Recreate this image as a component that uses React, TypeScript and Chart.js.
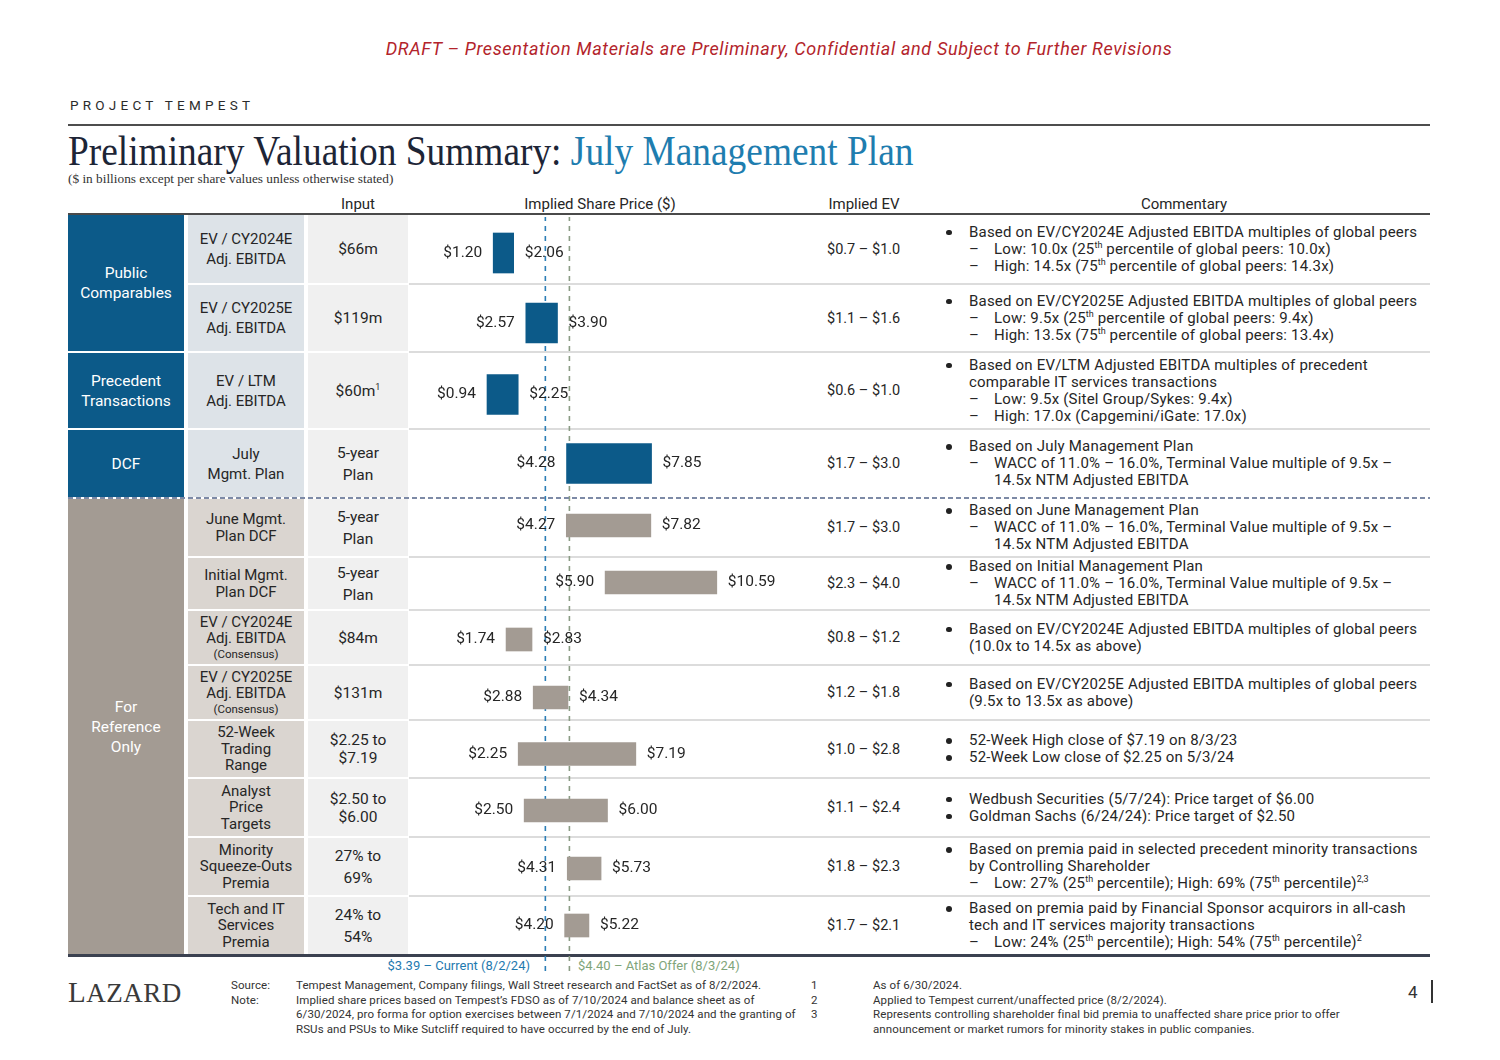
import React, { useEffect, useRef } from "react";
import { Chart, registerables } from "chart.js";

Chart.register(...registerables);

// ---------------- data ----------------
const methods: string[] = [
  "EV / CY2024E\nAdj. EBITDA",
  "EV / CY2025E\nAdj. EBITDA",
  "EV / LTM\nAdj. EBITDA",
  "July\nMgmt. Plan",
  "June Mgmt.\nPlan DCF",
  "Initial Mgmt.\nPlan DCF",
  "EV / CY2024E\nAdj. EBITDA\n(Consensus)",
  "EV / CY2025E\nAdj. EBITDA\n(Consensus)",
  "52-Week\nTrading\nRange",
  "Analyst\nPrice\nTargets",
  "Minority\nSqueeze-Outs\nPremia",
  "Tech and IT\nServices\nPremia",
];
const inputs: string[] = [
  "$66m",
  "$119m",
  "$60m{1}",
  "5-year\nPlan",
  "5-year\nPlan",
  "5-year\nPlan",
  "$84m",
  "$131m",
  "$2.25 to\n$7.19",
  "$2.50 to\n$6.00",
  "27% to\n69%",
  "24% to\n54%",
];
const lows: number[] = [1.2, 2.57, 0.94, 4.28, 4.27, 5.9, 1.74, 2.88, 2.25, 2.5, 4.31, 4.2];
const highs: number[] = [2.06, 3.9, 2.25, 7.85, 7.82, 10.59, 2.83, 4.34, 7.19, 6.0, 5.73, 5.22];
const evRanges: string[] = [
  "$0.7 – $1.0",
  "$1.1 – $1.6",
  "$0.6 – $1.0",
  "$1.7 – $3.0",
  "$1.7 – $3.0",
  "$2.3 – $4.0",
  "$0.8 – $1.2",
  "$1.2 – $1.8",
  "$1.0 – $2.8",
  "$1.1 – $2.4",
  "$1.8 – $2.3",
  "$1.7 – $2.1",
];
const groupLabels: string[] = ["Public\nComparables", "Precedent\nTransactions", "DCF", "For\nReference\nOnly"];
const groupRowCounts: number[] = [2, 1, 1, 8];
const groupIsReference: boolean[] = [false, false, false, true];

const CURRENT_PRICE = 3.39;
const OFFER_PRICE = 4.4;
const currentLabel = "$3.39 – Current (8/2/24)";
const offerLabel = "$4.40 – Atlas Offer (8/3/24)";

type Line = [string, string];
const commentary: Line[][] = [
  [
    ["b", "Based on EV/CY2024E Adjusted EBITDA multiples of global peers"],
    ["d", "Low: 10.0x (25{th} percentile of global peers: 10.0x)"],
    ["d", "High: 14.5x (75{th} percentile of global peers: 14.3x)"],
  ],
  [
    ["b", "Based on EV/CY2025E Adjusted EBITDA multiples of global peers"],
    ["d", "Low: 9.5x (25{th} percentile of global peers: 9.4x)"],
    ["d", "High: 13.5x (75{th} percentile of global peers: 13.4x)"],
  ],
  [
    ["b", "Based on EV/LTM Adjusted EBITDA multiples of precedent"],
    ["bc", "comparable IT services transactions"],
    ["d", "Low: 9.5x (Sitel Group/Sykes: 9.4x)"],
    ["d", "High: 17.0x (Capgemini/iGate: 17.0x)"],
  ],
  [
    ["b", "Based on July Management Plan"],
    ["d", "WACC of 11.0% – 16.0%, Terminal Value multiple of 9.5x –"],
    ["dc", "14.5x NTM Adjusted EBITDA"],
  ],
  [
    ["b", "Based on June Management Plan"],
    ["d", "WACC of 11.0% – 16.0%, Terminal Value multiple of 9.5x –"],
    ["dc", "14.5x NTM Adjusted EBITDA"],
  ],
  [
    ["b", "Based on Initial Management Plan"],
    ["d", "WACC of 11.0% – 16.0%, Terminal Value multiple of 9.5x –"],
    ["dc", "14.5x NTM Adjusted EBITDA"],
  ],
  [
    ["b", "Based on EV/CY2024E Adjusted EBITDA multiples of global peers"],
    ["bc", "(10.0x to 14.5x as above)"],
  ],
  [
    ["b", "Based on EV/CY2025E Adjusted EBITDA multiples of global peers"],
    ["bc", "(9.5x to 13.5x as above)"],
  ],
  [
    ["b", "52-Week High close of $7.19 on 8/3/23"],
    ["b", "52-Week Low close of $2.25 on 5/3/24"],
  ],
  [
    ["b", "Wedbush Securities (5/7/24): Price target of $6.00"],
    ["b", "Goldman Sachs (6/24/24): Price target of $2.50"],
  ],
  [
    ["b", "Based on premia paid in selected precedent minority transactions"],
    ["bc", "by Controlling Shareholder"],
    ["d", "Low: 27% (25{th} percentile); High: 69% (75{th} percentile){2,3}"],
  ],
  [
    ["b", "Based on premia paid by Financial Sponsor acquirors in all-cash"],
    ["bc", "tech and IT services majority transactions"],
    ["d", "Low: 24% (25{th} percentile); High: 54% (75{th} percentile){2}"],
  ],
];

const sourceNotes: string[] = [
  "Tempest Management, Company filings, Wall Street research and FactSet as of 8/2/2024.",
  "Implied share prices based on Tempest’s FDSO as of 7/10/2024 and balance sheet as of",
  "6/30/2024, pro forma for option exercises between 7/1/2024 and 7/10/2024 and the granting of",
  "RSUs and PSUs to Mike Sutcliff required to have occurred by the end of July.",
];
const footnoteNumbers: string[] = ["1", "2", "3"];
const footnotes: string[] = [
  "As of 6/30/2024.",
  "Applied to Tempest current/unaffected price (8/2/2024).",
  "Represents controlling shareholder final bid premia to unaffected share price prior to offer",
  "announcement or market rumors for minority stakes in public companies.",
];

// ---------------- layout / style ----------------
const FONT = "Roboto, 'Noto Sans', sans-serif";
const SERIF = "'Liberation Serif', 'DejaVu Serif', serif";
const BLUE = "#0C5A89";
const GREY = "#A39B93";
const TITLE_BLUE = "#1E7DAF";
const CUR_BLUE = "#2C7DB5";
const OFFER_GREEN = "#8A9C84";
const TEXT = "#262626";

const ROW_EDGES = [214, 284, 352, 429, 498, 557, 610, 665, 720, 778, 837, 896, 955];
const BAR_SHIFT = [4, 5, 4, 0, -2, -1, 2, 5, 5, 3, 2, 0];
const INPUT_LH = [20, 20, 20, 22, 22, 22, 20, 20, 18, 18, 22, 22];
const X_MIN = -2;
const X_MAX = 14;
const CHART_LEFT = 417;
const CHART_WIDTH = 381;
const LEFT = 68;
const RIGHT = 1430;

function Rich({ text, supSize = 9 }: { text: string; supSize?: number }) {
  const parts = text.split(/\{([^}]*)\}/);
  return (
    <>
      {parts.map((p, i) =>
        i % 2 ? (
          <sup key={i} style={{ fontSize: supSize, lineHeight: 0, verticalAlign: "super", letterSpacing: 0 }}>
            {p}
          </sup>
        ) : (
          <React.Fragment key={i}>{p}</React.Fragment>
        )
      )}
    </>
  );
}

function MultiLine({ text, lh, small }: { text: string; lh: number; small?: boolean }) {
  return (
    <div style={{ textAlign: "center" }}>
      {text.split("\n").map((l, i) => {
        const isSmall = small && l.startsWith("(");
        return (
          <div key={i} style={{ lineHeight: `${isSmall ? 15 : lh}px`, fontSize: isSmall ? 11.5 : undefined, whiteSpace: "nowrap" }}>
            <Rich text={l} />
          </div>
        );
      })}
    </div>
  );
}

const rangeLabelPlugin = {
  id: "rangeLabels",
  afterDatasetsDraw(chart: any) {
    const ctx = chart.ctx;
    const meta = chart.getDatasetMeta(0);
    const ds = chart.data.datasets[0];
    meta.data.forEach((bar: any, i: number) => {
      const p = bar.getProps(["x", "y", "base"], true);
      const [lo, hi] = ds.data[i] as number[];
      const left = Math.min(p.x, p.base);
      const right = Math.max(p.x, p.base);
      ctx.save();
      ctx.font = `15.5px ${FONT}`;
      ctx.fillStyle = TEXT;
      ctx.textBaseline = "middle";
      ctx.textAlign = "right";
      ctx.fillText(`$${lo.toFixed(2)}`, left - 11, p.y);
      ctx.textAlign = "left";
      ctx.fillText(`$${hi.toFixed(2)}`, right + 11, p.y);
      ctx.restore();
    });
  },
};

function RowBar({ index }: { index: number }) {
  const ref = useRef<HTMLCanvasElement>(null);
  const top = ROW_EDGES[index];
  const height = ROW_EDGES[index + 1] - top;
  const refRow = index >= groupRowCounts[0] + groupRowCounts[1] + groupRowCounts[2];
  useEffect(() => {
    const shift = BAR_SHIFT[index];
    const chart = new Chart(ref.current!, {
      type: "bar",
      data: {
        labels: [methods[index]],
        datasets: [
          {
            data: [[lows[index], highs[index]]] as any,
            backgroundColor: refRow ? GREY : BLUE,
            borderWidth: 0,
            barThickness: refRow ? 23 : 40,
          },
        ],
      },
      options: {
        indexAxis: "y",
        animation: false,
        responsive: true,
        maintainAspectRatio: false,
        layout: { padding: { top: shift > 0 ? shift * 2 : 0, bottom: shift < 0 ? -shift * 2 : 0, left: 0, right: 0 } },
        plugins: { legend: { display: false }, tooltip: { enabled: false } },
        scales: {
          x: { type: "linear", min: X_MIN, max: X_MAX, display: false },
          y: { display: false },
        },
      },
      plugins: [rangeLabelPlugin],
    });
    return () => chart.destroy();
  }, [index]);
  return (
    <div style={{ position: "absolute", left: CHART_LEFT, top, width: CHART_WIDTH, height, zIndex: 3 }}>
      <canvas ref={ref} />
    </div>
  );
}

function RefLines() {
  const ref = useRef<HTMLCanvasElement>(null);
  useEffect(() => {
    const chart = new Chart(ref.current!, {
      type: "scatter",
      data: {
        datasets: [
          {
            data: [
              { x: CURRENT_PRICE, y: 0 },
              { x: CURRENT_PRICE, y: 1 },
            ],
            showLine: true,
            borderColor: CUR_BLUE,
            borderWidth: 1.6,
            borderDash: [5, 5],
            pointRadius: 0,
          },
          {
            data: [
              { x: OFFER_PRICE, y: 0 },
              { x: OFFER_PRICE, y: 1 },
            ],
            showLine: true,
            borderColor: OFFER_GREEN,
            borderWidth: 1.6,
            borderDash: [5, 5],
            pointRadius: 0,
          },
        ],
      },
      options: {
        animation: false,
        responsive: true,
        maintainAspectRatio: false,
        layout: { padding: 0 },
        plugins: { legend: { display: false }, tooltip: { enabled: false } },
        scales: {
          x: { type: "linear", min: X_MIN, max: X_MAX, display: false },
          y: { type: "linear", min: 0, max: 1, display: false },
        },
      },
    });
    return () => chart.destroy();
  }, []);
  return (
    <div style={{ position: "absolute", left: CHART_LEFT, top: 217, width: CHART_WIDTH, height: 754, zIndex: 2 }}>
      <canvas ref={ref} />
    </div>
  );
}

function abs(left: number, top: number, extra: React.CSSProperties = {}): React.CSSProperties {
  return { position: "absolute", left, top, ...extra };
}

export default function App() {
  const groupBlocks: JSX.Element[] = [];
  let r = 0;
  groupLabels.forEach((g, gi) => {
    const top = ROW_EDGES[r] + 1;
    const bottom = ROW_EDGES[r + groupRowCounts[gi]] - 1;
    groupBlocks.push(
      <div
        key={"g" + gi}
        style={abs(LEFT, top, {
          width: 116,
          height: bottom - top,
          background: groupIsReference[gi] ? GREY : BLUE,
          color: "#fff",
          display: "flex",
          alignItems: "center",
          justifyContent: "center",
          fontSize: 15.5,
        })}
      >
        <MultiLine text={g} lh={20} />
      </div>
    );
    r += groupRowCounts[gi];
  });

  const isRefRow = (i: number) => i >= groupRowCounts[0] + groupRowCounts[1] + groupRowCounts[2];
  const noteStyle: React.CSSProperties = {
    fontSize: 11.5,
    lineHeight: "14.5px",
    color: "#333",
    whiteSpace: "nowrap",
    letterSpacing: 0.1,
  };

  return (
    <div
      style={{
        position: "absolute",
        left: 0,
        top: 0,
        width: 1500,
        height: 1060,
        background: "#fff",
        fontFamily: FONT,
        color: TEXT,
        overflow: "hidden",
      }}
    >
      {/* draft banner */}
      <div
        style={abs(179, 37, {
          width: 1200,
          textAlign: "center",
          fontStyle: "italic",
          fontSize: 18,
          letterSpacing: 0.65,
          lineHeight: "24px",
          color: "#B3242B",
          whiteSpace: "nowrap",
        })}
      >
        DRAFT – Presentation Materials are Preliminary, Confidential and Subject to Further Revisions
      </div>
      <div style={abs(70, 97, { fontSize: 13.5, letterSpacing: 4.25, lineHeight: "16px", color: "#2B2B2B" })}>
        PROJECT TEMPEST
      </div>
      <div style={abs(LEFT, 124, { width: RIGHT - LEFT, height: 1.5, background: "#4D4D4D" })} />
      <div
        style={abs(LEFT, 127, {
          fontFamily: SERIF,
          fontSize: 42,
          lineHeight: "48px",
          whiteSpace: "nowrap",
          color: "#1D2536",
          transform: "scaleX(0.89)",
          transformOrigin: "0 0",
        })}
      >
        Preliminary Valuation Summary: <span style={{ color: TITLE_BLUE }}>July Management Plan</span>
      </div>
      <div style={abs(LEFT, 171, { fontFamily: SERIF, fontSize: 13.3, lineHeight: "16px", color: "#333" })}>
        ($ in billions except per share values unless otherwise stated)
      </div>

      {/* headers */}
      {[
        ["Input", 358],
        ["Implied Share Price ($)", 600],
        ["Implied EV", 864],
        ["Commentary", 1184],
      ].map(([t, c]) => (
        <div
          key={t as string}
          style={abs((c as number) - 150, 195, { width: 300, textAlign: "center", fontSize: 15, lineHeight: "18px" })}
        >
          {t}
        </div>
      ))}
      <div style={abs(LEFT, 212.5, { width: RIGHT - LEFT, height: 2, background: "#4A4A4A" })} />

      {groupBlocks}

      {methods.map((m, i) => {
        const top = ROW_EDGES[i] + 1;
        const h = ROW_EDGES[i + 1] - ROW_EDGES[i] - 2;
        const refRow = isRefRow(i);
        return (
          <React.Fragment key={"row" + i}>
            <div
              style={abs(188, top, {
                width: 116,
                height: h,
                background: refRow ? "#DAD5D0" : "#DDE3E8",
                display: "flex",
                alignItems: "center",
                justifyContent: "center",
                fontSize: 15,
              })}
            >
              <MultiLine text={m} lh={refRow ? 16.5 : 20} small />
            </div>
            <div
              style={abs(308, top, {
                width: 100,
                height: h,
                background: "#F0F0F0",
                display: "flex",
                alignItems: "center",
                justifyContent: "center",
                fontSize: 15.5,
              })}
            >
              <MultiLine text={inputs[i]} lh={INPUT_LH[i]} />
            </div>
            <div
              style={abs(827, ROW_EDGES[i], {
                height: ROW_EDGES[i + 1] - ROW_EDGES[i],
                display: "flex",
                alignItems: "center",
                fontSize: 14.5,
                whiteSpace: "nowrap",
              })}
            >
              {evRanges[i]}
            </div>
            <div
              style={abs(940, ROW_EDGES[i], {
                width: 510,
                height: ROW_EDGES[i + 1] - ROW_EDGES[i],
                display: "flex",
                flexDirection: "column",
                justifyContent: "center",
                fontSize: 15,
                letterSpacing: 0.2,
                whiteSpace: "nowrap",
              })}
            >
              {commentary[i].map(([k, t], j) => (
                <div
                  key={j}
                  style={{
                    position: "relative",
                    lineHeight: "17px",
                    height: 17,
                    paddingLeft: k === "b" || k === "bc" ? 29 : 54,
                  }}
                >
                  {k === "b" && (
                    <span
                      style={{
                        position: "absolute",
                        left: 6,
                        top: 6,
                        width: 5.5,
                        height: 5.5,
                        borderRadius: 3,
                        background: "#222",
                      }}
                    />
                  )}
                  {k === "d" && <span style={{ position: "absolute", left: 29 }}>–</span>}
                  <Rich text={t} />
                </div>
              ))}
            </div>
            {i > 0 && i !== 4 && (
              <div style={abs(409, ROW_EDGES[i] - 0.75, { width: RIGHT - 409, height: 1.5, background: "#DCDCDC" })} />
            )}
            <RowBar index={i} />
          </React.Fragment>
        );
      })}

      {/* dashed separator between DCF and reference rows */}
      <div
        style={abs(LEFT, ROW_EDGES[4] - 1, {
          width: RIGHT - LEFT,
          height: 1.5,
          background: "repeating-linear-gradient(to right, #7D8AA6 0 5px, transparent 5px 8px)",
          zIndex: 4,
        })}
      />
      {/* bottom rule */}
      <div style={abs(LEFT, 954, { width: RIGHT - LEFT, height: 2.5, background: "#3B4150", zIndex: 1 })} />

      <RefLines />

      {/* reference line labels */}
      <div style={abs(230, 958, { width: 300, textAlign: "right", fontSize: 13, lineHeight: "16px", color: "#1F7AB0" })}>
        {currentLabel}
      </div>
      <div style={abs(578, 958, { fontSize: 13, lineHeight: "16px", color: "#7FA57A", whiteSpace: "nowrap" })}>
        {offerLabel}
      </div>

      {/* footer */}
      <div style={abs(LEFT, 976, { fontFamily: SERIF, fontSize: 29, lineHeight: "32px", color: "#3A3A3A", letterSpacing: 0.5 })}>
        L<span style={{ fontSize: 27 }}>AZARD</span>
      </div>
      <div style={abs(231, 978, noteStyle)}>
        <div>Source:</div>
        <div>Note:</div>
      </div>
      <div style={abs(296, 978, noteStyle)}>
        {sourceNotes.map((s, i) => (
          <div key={i}>{s}</div>
        ))}
      </div>
      <div style={abs(811, 978, noteStyle)}>
        {footnoteNumbers.map((s, i) => (
          <div key={i}>{s}</div>
        ))}
      </div>
      <div style={abs(873, 978, noteStyle)}>
        {footnotes.map((s, i) => (
          <div key={i}>{s}</div>
        ))}
      </div>
      <div style={abs(1408, 982, { fontSize: 17, lineHeight: "20px", color: "#333" })}>4</div>
      <div style={abs(1431, 980, { width: 1.5, height: 23, background: "#333" })} />
    </div>
  );
}
